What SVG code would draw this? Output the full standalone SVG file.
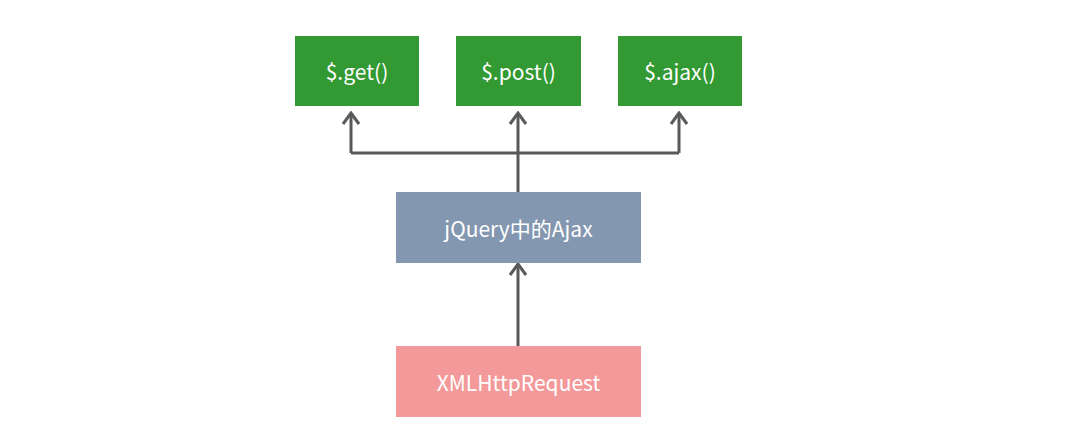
<svg xmlns="http://www.w3.org/2000/svg" width="1077" height="434" viewBox="0 0 1077 434">
<style>
.lbl{font-family:"Noto Sans CJK SC","Noto Sans",sans-serif;font-size:21px;fill:#ffffff;text-anchor:middle;dominant-baseline:central}
.con{fill:none;stroke:#595959;stroke-width:3}
</style>
<defs>
<marker id="arr" markerWidth="14" markerHeight="18" viewBox="0 0 14 18" refX="11.5" refY="9" orient="auto" markerUnits="userSpaceOnUse">
<path d="M0.5,1 L11.5,9 L0.5,17" fill="none" stroke="#595959" stroke-width="3"/>
</marker>
</defs>
<rect width="1077" height="434" fill="#ffffff"/>
<g id="connectors">
<path class="con" d="M518,192 L518,113" marker-end="url(#arr)"/>
<path class="con" d="M351,153 L679,153"/>
<path class="con" d="M351,153 L351,113" marker-end="url(#arr)"/>
<path class="con" d="M679,153 L679,113" marker-end="url(#arr)"/>
<path class="con" d="M518,346 L518,264" marker-end="url(#arr)"/>
</g>
<g id="get"><rect x="295" y="36" width="124" height="70" fill="#339933"/><text class="lbl" x="357" y="71">$.get()</text></g>
<g id="post"><rect x="456" y="36" width="125" height="70" fill="#339933"/><text class="lbl" x="518.5" y="71">$.post()</text></g>
<g id="ajax"><rect x="618" y="36" width="124" height="70" fill="#339933"/><text class="lbl" x="680" y="71">$.ajax()</text></g>
<g id="jquery"><rect x="396" y="192" width="245" height="71" fill="#8497B0"/><text class="lbl" x="518.5" y="227.5">jQuery中的Ajax</text></g>
<g id="xhr"><rect x="396" y="346" width="245" height="71" fill="#F4999A"/><text class="lbl" x="518.5" y="381.5">XMLHttpRequest</text></g>
</svg>
